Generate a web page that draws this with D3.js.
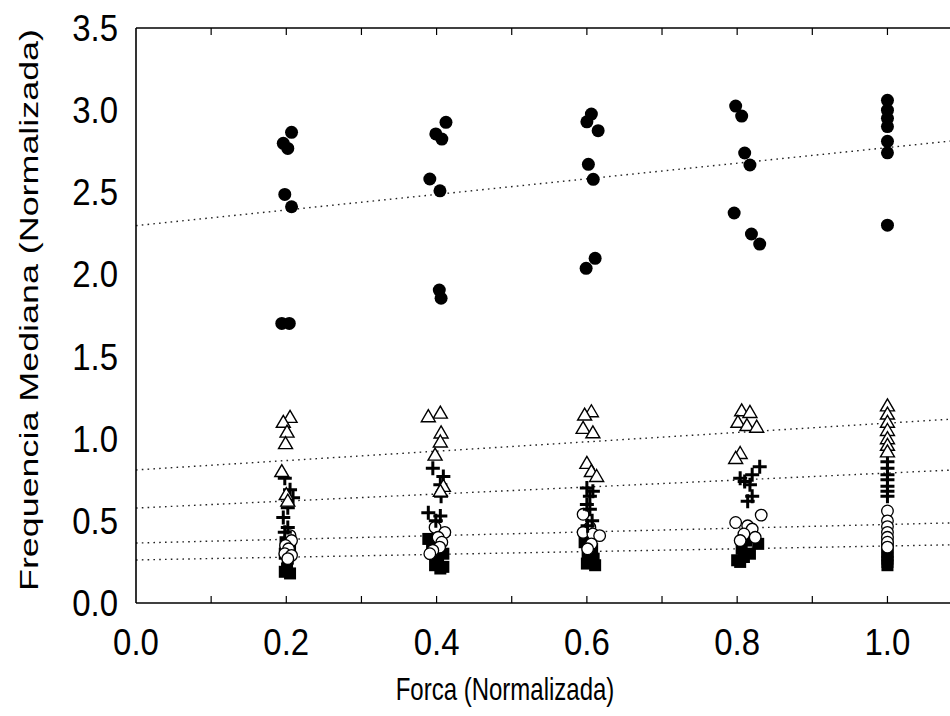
<!DOCTYPE html>
<html><head><meta charset="utf-8">
<script src="https://cdn.jsdelivr.net/npm/d3@7"></script>
<style>body{margin:0;background:#fff}svg{display:block;font-family:"Liberation Sans",Arial,sans-serif}</style>
</head><body><svg id="c" width="950" height="716"></svg>
<script>
// ---- data ----
const forceLevels = [0.2, 0.4, 0.6, 0.8, 1.0];
const xTickLabels = ["0.0","0.2","0.4","0.6","0.8","1.0"];
const yTickLabels = ["0.0","0.5","1.0","1.5","2.0","2.5","3.0","3.5"];

// filled circles
const filledCircleX = [
  [0.207,0.196,0.202,0.198,0.207,0.194,0.204],
  [0.4125,0.399,0.407,0.391,0.4045,0.4036,0.406],
  [0.606,0.600,0.615,0.602,0.6085,0.611,0.599],
  [0.798,0.806,0.810,0.817,0.796,0.819,0.830],
  [1.0,1.0,1.0,1.0,1.0,1.0,1.0]];
const filledCircleY = [
  [2.865,2.798,2.767,2.487,2.412,1.702,1.702],
  [2.926,2.855,2.824,2.581,2.509,1.905,1.855],
  [2.976,2.929,2.875,2.670,2.579,2.098,2.037],
  [3.025,2.964,2.739,2.666,2.374,2.246,2.185],
  [3.06,3.00,2.95,2.90,2.81,2.74,2.30]];
// open triangles
const triangleX = [
  [0.205,0.196,0.201,0.199,0.194,0.200,0.202],
  [0.405,0.389,0.406,0.405,0.398,0.409,0.405],
  [0.606,0.597,0.595,0.608,0.600,0.606,0.613],
  [0.806,0.817,0.801,0.813,0.826,0.804,0.798],
  [1.0,1.0,1.0,1.0,1.0,1.0,1.0]];
const triangleY = [
  [1.13,1.10,1.04,0.97,0.80,0.66,0.62],
  [1.156,1.134,1.035,0.98,0.90,0.71,0.68],
  [1.164,1.144,1.063,1.036,0.85,0.80,0.77],
  [1.17,1.16,1.10,1.08,1.07,0.91,0.88],
  [1.20,1.15,1.10,1.05,1.00,0.96,0.92]];
// plus signs
const plusX = [
  [0.198,0.205,0.209,0.202,0.196,0.202,0.198],
  [0.395,0.409,0.405,0.406,0.389,0.405,0.399],
  [0.600,0.608,0.604,0.600,0.604,0.607,0.601],
  [0.830,0.820,0.804,0.810,0.817,0.820,0.814],
  [1.0,1.0,1.0,1.0,1.0,1.0,1.0]];
const plusY = [
  [0.76,0.69,0.64,0.58,0.52,0.46,0.43],
  [0.82,0.77,0.72,0.65,0.55,0.53,0.50],
  [0.70,0.68,0.65,0.60,0.57,0.50,0.47],
  [0.83,0.78,0.76,0.74,0.72,0.65,0.62],
  [0.86,0.82,0.78,0.75,0.71,0.68,0.65]];
// open circles
const openCircleX = [
  [0.205,0.207,0.199,0.203,0.198,0.207,0.202],
  [0.398,0.411,0.402,0.407,0.404,0.395,0.391],
  [0.595,0.604,0.595,0.608,0.617,0.606,0.601],
  [0.832,0.798,0.814,0.820,0.809,0.824,0.804],
  [1.0,1.0,1.0,1.0,1.0,1.0,1.0]];
const openCircleY = [
  [0.41,0.38,0.35,0.33,0.30,0.29,0.27],
  [0.46,0.43,0.40,0.37,0.34,0.32,0.30],
  [0.54,0.46,0.43,0.42,0.41,0.36,0.33],
  [0.535,0.49,0.47,0.45,0.42,0.40,0.38],
  [0.56,0.50,0.465,0.43,0.40,0.37,0.34]];
// filled squares
const squareX = [
  [0.199,0.205,0.198,0.202,0.201,0.198,0.205],
  [0.389,0.394,0.409,0.402,0.398,0.409,0.405],
  [0.597,0.607,0.601,0.609,0.604,0.600,0.611],
  [0.812,0.828,0.806,0.817,0.809,0.800,0.804],
  [1.0,1.0,1.0,1.0,1.0,1.0,1.0]];
const squareY = [
  [0.37,0.33,0.30,0.27,0.21,0.19,0.18],
  [0.39,0.35,0.30,0.26,0.23,0.22,0.21],
  [0.37,0.33,0.30,0.27,0.25,0.24,0.23],
  [0.38,0.36,0.33,0.30,0.28,0.26,0.25],
  [0.37,0.34,0.31,0.29,0.27,0.25,0.23]];

// fitted lines: [intercept, slope]
const fitFilledCircle = [2.297, 0.475];
const fitTriangle     = [0.81, 0.285];
const fitPlus         = [0.578, 0.213];
const fitOpenCircle   = [0.365, 0.113];
const fitSquare       = [0.262, 0.085];

// ---- drawing ----
const svg = d3.select("#c");
const x = d3.scaleLinear().domain([0, 1.1]).range([136, 962.6]);
const y = d3.scaleLinear().domain([0, 3.5]).range([603, 28]);

svg.append("clipPath").attr("id","plot").append("rect")
  .attr("x",136).attr("y",28).attr("width",830).attr("height",575);

const g = svg.append("g").attr("clip-path","url(#plot)");

// regression lines
const fits = [fitFilledCircle, fitTriangle, fitPlus, fitOpenCircle, fitSquare];
const line = d3.line().x(d=>x(d[0])).y(d=>y(d[1]));
fits.forEach(f=>{
  g.append("path")
   .attr("d", line([[0, f[0]], [1.1, f[0]+f[1]*1.1]]))
   .attr("fill","none").attr("stroke","#222").attr("stroke-width",1.4)
   .attr("stroke-dasharray","1.6,4.2");
});

function pts(X, Y){ const out=[]; X.forEach((row,i)=>row.forEach((v,j)=>out.push([v, Y[i][j]]))); return out; }

// squares
g.selectAll(".sq").data(pts(squareX, squareY)).enter().append("rect")
  .attr("x",d=>x(d[0])-6).attr("y",d=>y(d[1])-6).attr("width",12).attr("height",12)
  .attr("fill","#000");
// open circles
g.selectAll(".oc").data(pts(openCircleX, openCircleY)).enter().append("circle")
  .attr("cx",d=>x(d[0])).attr("cy",d=>y(d[1])).attr("r",5.8)
  .attr("fill","#fff").attr("stroke","#000").attr("stroke-width",1.3);
// plus
g.selectAll(".pl").data(pts(plusX, plusY)).enter().append("path")
  .attr("d",d=>{const cx=x(d[0]), cy=y(d[1]); return `M${cx-7},${cy}H${cx+7}M${cx},${cy-7}V${cy+7}`;})
  .attr("stroke","#000").attr("stroke-width",3).attr("fill","none");
// triangles
g.selectAll(".tr").data(pts(triangleX, triangleY)).enter().append("path")
  .attr("d",d=>{const cx=x(d[0]), cy=y(d[1]); return `M${cx},${cy-7}L${cx+7},${cy+5}L${cx-7},${cy+5}Z`;})
  .attr("fill","#fff").attr("stroke","#000").attr("stroke-width",1.4);
// filled circles
g.selectAll(".fc").data(pts(filledCircleX, filledCircleY)).enter().append("circle")
  .attr("cx",d=>x(d[0])).attr("cy",d=>y(d[1])).attr("r",6.5).attr("fill","#000");

// frame
const ax = svg.append("g").attr("stroke","#000").attr("fill","none");
ax.append("line").attr("x1",136).attr("x2",950).attr("y1",603).attr("y2",603).attr("stroke-width",1.6);
ax.append("line").attr("x1",136).attr("x2",950).attr("y1",28).attr("y2",28).attr("stroke-width",1.6);
ax.append("line").attr("x1",136).attr("x2",136).attr("y1",28).attr("y2",603).attr("stroke-width",1.6);
const xt = d3.range(1, 12).map(i=>i/10);
xt.forEach(t=>{
  const px = x(t); if (px > 950) return;
  ax.append("line").attr("x1",px).attr("x2",px).attr("y1",603).attr("y2",596).attr("stroke-width",1.2);
  ax.append("line").attr("x1",px).attr("x2",px).attr("y1",28).attr("y2",35).attr("stroke-width",1.2);
});

// tick labels
const lab = svg.append("g").attr("fill","#000").attr("font-size",33);
xTickLabels.forEach(s=>{
  lab.append("text").attr("transform",`translate(${x(+s)},655) scale(1,1.12)`)
     .attr("text-anchor","middle").text(s);
});
yTickLabels.forEach(s=>{
  lab.append("text").attr("transform",`translate(118,${y(+s)+13}) scale(1,1.12)`)
     .attr("text-anchor","end").text(s);
});

svg.append("text").attr("transform","translate(505,700) scale(1,1.3)").attr("text-anchor","middle")
  .attr("font-size",24).text("Forca (Normalizada)");
svg.append("text").attr("transform","translate(38,310) rotate(-90)").attr("text-anchor","middle")
  .attr("font-size",26).attr("textLength",562).attr("lengthAdjust","spacingAndGlyphs")
  .text("Frequencia Mediana (Normalizada)");
</script></body></html>
